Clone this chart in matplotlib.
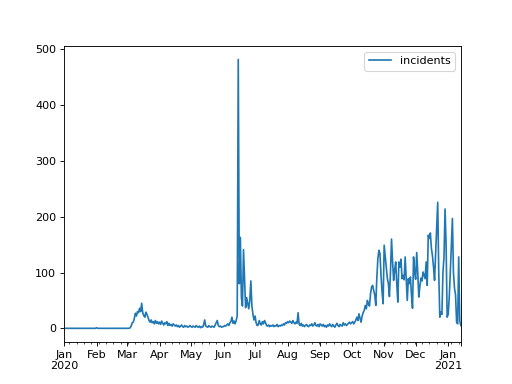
import matplotlib
matplotlib.use("Agg")
import matplotlib.pyplot as plt
import pandas as pd

start_date = "2020-01-01"

jan = [0] * 31
feb = [1] + [0] * 28
mar = [0, 0, 0, 1, 4, 10, 11, 18, 27, 22, 30, 28, 36, 30, 45, 28, 23, 20, 29, 25,
       20, 14, 11, 15, 10, 12, 8, 14, 9, 12, 8]
apr = [11, 7, 13, 9, 6, 10, 8, 12, 5, 9, 5, 7, 4, 8, 6, 4, 6, 3, 5, 2,
       4, 6, 3, 2, 5, 3, 4, 2, 3, 5]
may = [3, 2, 4, 3, 2, 5, 3, 2, 4, 1, 3, 2, 6, 15, 4, 3, 2, 5, 3, 2,
       4, 3, 2, 6, 10, 14, 5, 3, 4, 2, 3]
jun = [3, 5, 4, 6, 8, 5, 10, 12, 20, 9, 13, 8, 14, 22, 482, 80, 163, 55, 40, 141,
       90, 37, 55, 45, 35, 50, 85, 40, 25, 15]
jul = [22, 10, 5, 6, 14, 8, 6, 12, 8, 14, 10, 5, 4, 6, 3, 5, 4, 6, 3, 5,
       4, 7, 3, 5, 4, 6, 5, 8, 6, 10, 9]
aug = [12, 10, 13, 11, 9, 14, 10, 8, 11, 9, 28, 7, 5, 9, 4, 6, 3, 5, 7, 4,
       3, 6, 5, 8, 4, 6, 10, 5, 4, 7, 3]
sep = [8, 6, 4, 7, 3, 5, 2, 6, 4, 8, 5, 3, 7, 4, 2, 6, 9, 5, 3, 7,
       5, 4, 10, 6, 8, 5, 7, 9, 11, 8]
oct_ = [10, 12, 8, 11, 15, 20, 14, 26, 18, 11, 22, 28, 32, 41, 35, 50, 44, 40, 62, 74,
        77, 68, 60, 41, 90, 125, 140, 134, 95, 65, 44]
nov = [149, 130, 110, 90, 80, 57, 100, 160, 120, 86, 105, 119, 80, 47, 119, 110, 124, 89, 95, 87,
       128, 90, 50, 89, 80, 92, 60, 36, 128, 100]
dec = [88, 136, 100, 56, 75, 90, 85, 101, 95, 89, 119, 77, 167, 161, 171, 143, 130, 110, 86, 134,
       180, 226, 100, 20, 29, 25, 100, 128, 214, 150, 20]
jan21 = [25, 56, 100, 150, 197, 100, 72, 60, 11, 8, 128, 14, 5]

values = jan + feb + mar + apr + may + jun + jul + aug + sep + oct_ + nov + dec + jan21
dates = pd.date_range(start_date, periods=len(values), freq="D")

df = pd.DataFrame({"incidents": values}, index=dates)
ax = df.plot(figsize=(6.4, 4.8))
plt.savefig("out.png", dpi=80)
